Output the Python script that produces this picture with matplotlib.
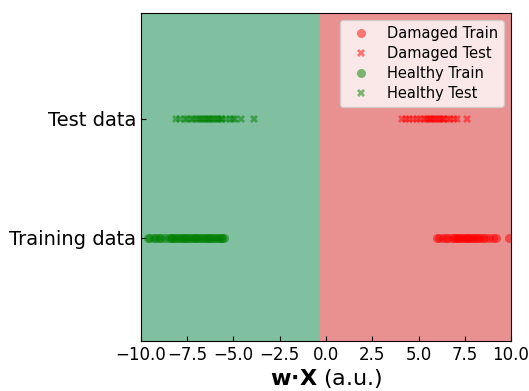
import matplotlib
matplotlib.use("Agg")
import matplotlib.pyplot as plt

# projections w.X for each group
healthy_train = [-9.6, -9.5, -9.3, -9.2, -9.0, -8.9, -8.7, -8.5, -8.4, -8.3, -8.2, -8.1,
                 -8.0, -7.9, -7.8, -7.7, -7.6, -7.5, -7.4, -7.3, -7.2, -7.1, -7.0, -6.9,
                 -6.8, -6.7, -6.6, -6.5, -6.4, -6.3, -6.2, -6.1, -6.0, -5.9, -5.8, -5.7,
                 -5.6, -5.5]
healthy_test = [-8.1, -7.9, -7.6, -7.5, -7.3, -7.2, -7.0, -6.9, -6.8, -6.7, -6.6, -6.5,
                -6.4, -6.3, -6.2, -6.1, -6.0, -5.9, -5.8, -5.7, -5.6, -5.4, -5.2, -5.0,
                -4.9, -4.6, -3.9]
damaged_train = [6.0, 6.1, 6.3, 6.5, 6.6, 6.8, 6.9, 7.0, 7.1, 7.2, 7.3, 7.4, 7.5, 7.6,
                 7.7, 7.8, 7.9, 8.0, 8.1, 8.2, 8.3, 8.5, 8.6, 8.8, 9.0, 9.2, 9.9]
damaged_test = [4.1, 4.3, 4.5, 4.7, 4.9, 5.1, 5.3, 5.4, 5.5, 5.6, 5.7, 5.8, 5.9, 6.0,
                6.1, 6.2, 6.3, 6.4, 6.6, 6.7, 6.9, 7.1, 7.6]
row_labels = ["Training data", "Test data"]
boundary = -0.3

fig = plt.figure(figsize=(5.29, 3.91), dpi=100)
ax = fig.add_axes([0.2665, 0.128, 0.6995, 0.839])

ax.axvspan(-10, boundary, color="#80bf9f", zorder=0)
ax.axvspan(boundary, 10, color="#e99190", zorder=0)

ax.plot(damaged_train, [0] * len(damaged_train), "o", color="red", alpha=0.5,
        markersize=6.5, markeredgewidth=0, label="Damaged Train")
ax.plot(damaged_test, [1] * len(damaged_test), "X", color="red", alpha=0.5,
        markersize=5.5, markeredgewidth=0, label="Damaged Test")
ax.plot(healthy_train, [0] * len(healthy_train), "o", color="green", alpha=0.5,
        markersize=6.5, markeredgewidth=0, label="Healthy Train")
ax.plot(healthy_test, [1] * len(healthy_test), "X", color="green", alpha=0.5,
        markersize=5.5, markeredgewidth=0, label="Healthy Test")

ax.set_xlim(-10, 10)
ax.set_ylim(-0.87, 1.89)
ax.set_yticks([0, 1])
ax.set_yticklabels(row_labels, fontsize=14)
ax.set_xticks([-10, -7.5, -5, -2.5, 0, 2.5, 5, 7.5, 10])
ax.tick_params(axis="both", direction="in")
ax.tick_params(axis="x", labelsize=12)
ax.set_xlabel(r"$\mathbf{w{\cdot}X}$ (a.u.)", fontsize=16, labelpad=2)

ax.legend(loc="upper right", fontsize=10.5, facecolor="white", framealpha=0.8,
          labelspacing=0.35)

fig.savefig("out.png", dpi=100)
